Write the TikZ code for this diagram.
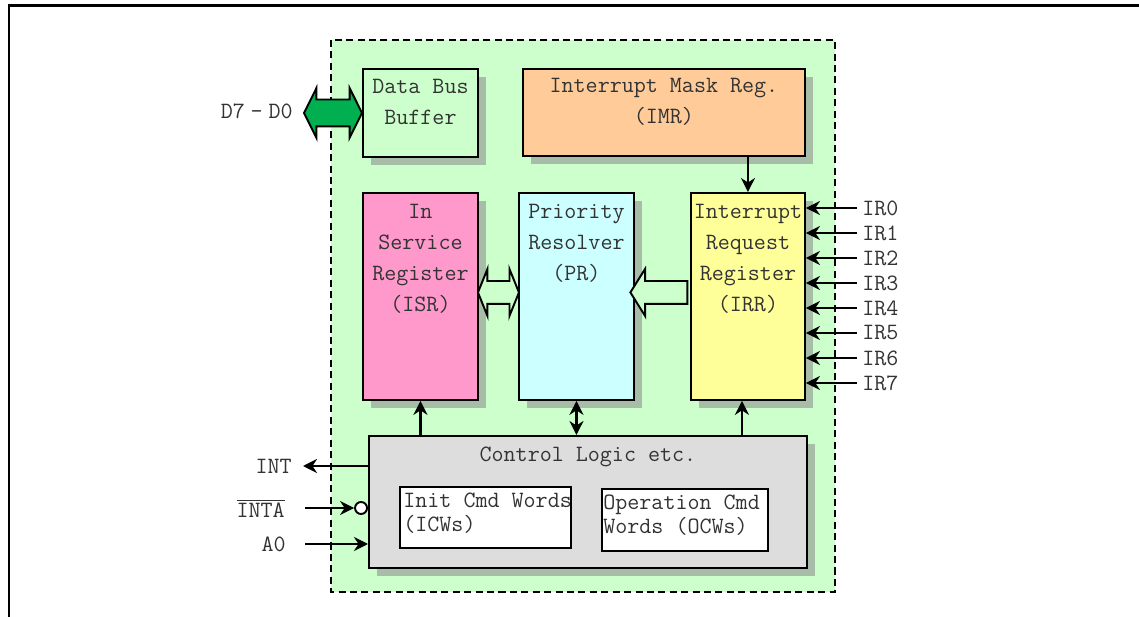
\documentclass[tikz,border=0pt]{standalone}
\usepackage{tikz}
\usetikzlibrary{arrows.meta,shapes.arrows,shadows,calc}

\definecolor{bggreen}{HTML}{CCFFCC}
\definecolor{imrorange}{HTML}{FFCC99}
\definecolor{isrpink}{HTML}{FF99CC}
\definecolor{prcyan}{HTML}{CCFFFF}
\definecolor{irryellow}{HTML}{FFFF99}
\definecolor{ctlgray}{HTML}{DDDDDD}
\definecolor{shadowgray}{HTML}{A8BDA8}
\definecolor{busgreen}{HTML}{00B050}
\definecolor{txtgray}{HTML}{333333}

\tikzset{
	box/.style={draw, line width=1.1pt, inner sep=0pt, anchor=north west,
		drop shadow={shadow xshift=0.16cm, shadow yshift=-0.16cm, fill=shadowgray, opacity=1}},
	plainbox/.style={draw, line width=1.1pt, inner sep=0pt, anchor=north west, fill=white},
	txt/.style={font=\fontsize{13.3}{17.6}\selectfont\ttfamily, text=txtgray, align=center, inner sep=0pt, anchor=north},
	smalltxt/.style={font=\fontsize{13.3}{13.6}\selectfont\ttfamily, text=txtgray, align=left, inner sep=0pt, anchor=north west},
	pin/.style={font=\fontsize{13.3}{15}\selectfont\ttfamily, text=txtgray, inner sep=0.1cm},
	arr/.style={line width=1.3pt, -{Stealth[length=2.8mm,width=2.8mm]}},
	dblarr/.style={line width=1.3pt, {Stealth[length=2.8mm,width=2.8mm]}-{Stealth[length=2.8mm,width=2.8mm]}},
	fatarrow/.style={draw, line width=1.1pt, inner xsep=0pt, outer sep=0pt}
}

\begin{document}
\begin{tikzpicture}[x=0.02cm, y=-0.02cm]
		\useasboundingbox (0,0) rectangle (1139,617);
		\draw[line width=1.7pt] (9,617) -- (9,6) -- (1139,6);
		\draw[fill=bggreen, line width=1.1pt, dash pattern=on 4pt off 2.5pt] (331,40) rectangle (835,592);
		% blocks
		\node[box, fill=bggreen, minimum width=2.3cm, minimum height=1.76cm] (dbb) at (362,68) {};
		\node[box, fill=imrorange, minimum width=5.64cm, minimum height=1.74cm] (imr) at (522,68) {};
		\node[box, fill=isrpink, minimum width=2.3cm, minimum height=4.14cm] (isr) at (362,192) {};
		\node[box, fill=prcyan, minimum width=2.3cm, minimum height=4.14cm] (pr) at (518,192) {};
		\node[box, fill=irryellow, minimum width=2.28cm, minimum height=4.14cm] (irr) at (690,192) {};
		\node[box, fill=ctlgray, minimum width=8.76cm, minimum height=2.64cm] (ctl) at (368,435) {};
		\node[plainbox, minimum width=3.42cm, minimum height=1.22cm] (icw) at (399,486) {};
		\node[plainbox, minimum width=3.32cm, minimum height=1.24cm] (ocw) at (601,488) {};
		% texts
		\node[txt] (dbbtxt) at ([yshift=-0.22cm]dbb.north) {Data Bus\\Buffer};
		\node[txt] (imrtxt) at ([yshift=-0.2cm]imr.north) {Interrupt Mask Reg.\\(IMR)};
		\node[txt] (isrtxt) at ([yshift=-0.24cm]isr.north) {In\\Service\\Register\\(ISR)};
		\node[txt] (prtxt) at ([yshift=-0.24cm]pr.north) {Priority\\Resolver\\(PR)};
		\node[txt] (irrtxt) at ([yshift=-0.24cm]irr.north) {Interrupt\\Request\\Register\\(IRR)};
		\node[txt] (ctltxt) at ([yshift=-0.24cm]ctl.north) {Control Logic etc.};
		\node[smalltxt] (icwtxt) at ([xshift=0.08cm, yshift=-0.14cm]icw.north west) {Init Cmd Words\\(ICWs)};
		\node[smalltxt] (ocwtxt) at ([xshift=0.04cm, yshift=-0.14cm]ocw.north west) {Operation Cmd\\Words (OCWs)};
		% inner connections
		\draw[arr] (irr.north |- imr.south) -- (irr.north);
		\draw[arr] (isr.south |- ctl.north) -- (isr.south);
		\draw[dblarr] (pr.south) -- (pr.south |- ctl.north);
		\draw[arr] ([xshift=-0.12cm]irr.south |- ctl.north) -- ([xshift=-0.12cm]irr.south);
		\node[fatarrow, double arrow, fill=bggreen, inner ysep=0.21cm, minimum height=0.82cm, minimum width=0.9cm, double arrow head extend=0.24cm, double arrow tip angle=136] (isrpr) at ($(isr.east)!0.5!(pr.west)+(0,-4)$) {};
		\node[fatarrow, single arrow, shape border rotate=180, fill=bggreen, inner ysep=0.21cm, minimum height=1.14cm, minimum width=0.9cm, single arrow head extend=0.24cm, single arrow tip angle=116] (irrpr) at ($(pr.east)!0.5!(irr.west)+(0,-4)$) {};
		% data bus
		\node[fatarrow, double arrow, fill=busgreen, inner ysep=0.25cm, minimum height=1.16cm, minimum width=0.96cm, double arrow head extend=0.23cm, double arrow tip angle=127] (dbus) at ([xshift=-0.58cm]dbb.west) {};
		\node[pin, anchor=east] (dlbl) at (298,111) {D7\hspace{0.25em}-\hspace{0.25em}D0};
		% interrupt requests
		\foreach \i in {0,...,7}{
			\node[pin, anchor=west] (ir\i) at (857,208+25*\i) {IR\i};
			\draw[arr] (ir\i.west) -- (irr.east |- ir\i.west);
		}
		% control pins
		\node[pin, anchor=east] (int) at (297,466) {INT};
		\node[pin, anchor=east] (inta) at (290,508) {$\overline{\hbox{INTA}}$};
		\node[pin, anchor=east] (a0) at (291,544) {A0};
		\node[circle, draw, fill=white, line width=1.1pt, inner sep=0pt, minimum size=0.24cm, anchor=east] (dot) at (ctl.west |- 0,508) {};
		\draw[arr] (ctl.west |- int.east) -- ([xshift=0.12cm]int.east);
		\draw[arr] ([xshift=0.3cm]inta.east) -- (dot.west);
		\draw[arr] ([xshift=0.28cm]a0.east) -- (ctl.west |- a0.east);
\end{tikzpicture}
\end{document}
